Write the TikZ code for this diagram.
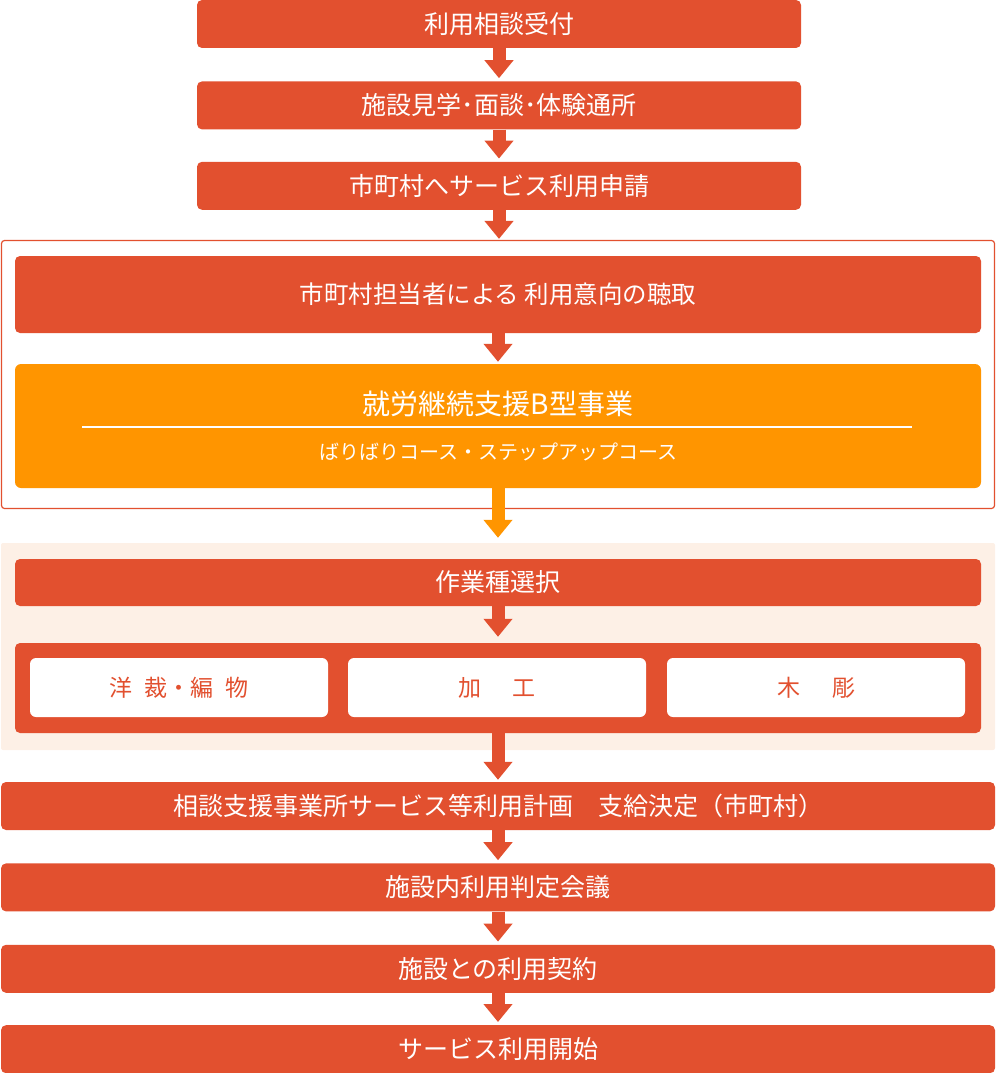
\documentclass[tikz,border=0pt]{standalone}
\usepackage{fontspec}
\newfontfamily\jp{Noto Sans CJK JP}
\usetikzlibrary{positioning,arrows.meta}
\definecolor{boxred}{HTML}{E2502F}
\definecolor{boxorange}{HTML}{FF9500}
\definecolor{peach}{HTML}{FDF0E6}
\tikzset{stepbox/.style={fill=boxred, rounded corners=5pt, text=white, inner sep=0pt,
    minimum height=48pt, font=\jp\fontsize{25}{30}\selectfont}}
\tikzset{kindbox/.style={fill=white, rounded corners=6pt, text=boxred, inner sep=0pt,
    minimum width=298pt, minimum height=59pt, font=\jp\fontsize{23}{27}\selectfont}}
\tikzset{arr/.style={draw=boxred, line width=13pt, -{Triangle[width=28pt,length=18pt]}}}
\tikzset{arrO/.style={arr, draw=boxorange}}
\begin{document}
\begin{tikzpicture}[x=1pt, y=1pt]
	\useasboundingbox (0,0) rectangle (996,-1073);
	\node[stepbox, minimum width=604pt] (uke) at (499,-24) {利用相談受付};
	\node[stepbox, minimum width=604pt, below=33pt of uke] (kengaku) {施設見学･面談･体験通所};
	\node[stepbox, minimum width=604pt, below=32pt of kengaku] (shinsei) {市町村へサービス利用申請};
	\node[draw=boxred, line width=1.2pt, fill=white, rounded corners=3pt,
	   minimum width=993pt, minimum height=268pt] (frm) at (498,-374.5) {};
	\node[stepbox, minimum width=966pt, minimum height=77pt,
	   font=\jp\fontsize{24.5}{28}\selectfont] (chosyu) at (498,-294.5) {市町村担当者による 利用意向の聴取};
	\node[fill=boxorange, rounded corners=6pt, minimum width=966pt, minimum height=124pt] (kata) at (498,-426) {};
	\node[text=white, font=\jp\fontsize{28}{32}\selectfont] (kataname) at (498,-404) {就労継続支援B型事業};
	\node[text=white, font=\jp\fontsize{20}{24}\selectfont] (course) at (498,-452) {ばりばりコース・ステップアップコース};
	\draw[white, line width=1.2pt] (82,-427) -- (912,-427);
	\node[fill=peach, rounded corners=2pt, minimum width=994pt, minimum height=207pt] (sagyobg) at (498,-646.5) {};
	\node[stepbox, minimum width=966pt, minimum height=47pt] (sentaku) at (498,-582.5) {作業種選択};
	\node[fill=boxred, rounded corners=5pt, minimum width=966pt, minimum height=90pt] (shubetsu) at (498,-688) {};
	\node[kindbox] (yousai) at (179,-687.5) {洋\hspace{12pt}裁・編\hspace{12pt}物};
	\node[kindbox] (kakou) at (497,-687.5) {加\hspace{32pt}工};
	\node[kindbox] (mokucho) at (816,-687.5) {木\hspace{32pt}彫};
	\node[stepbox, minimum width=994pt] (keikaku) at (498,-806) {相談支援事業所サービス等利用計画　支給決定（市町村）};
	\node[stepbox, minimum width=994pt, below=33pt of keikaku] (hantei) {施設内利用判定会議};
	\node[stepbox, minimum width=994pt, below=33pt of hantei] (keiyaku) {施設との利用契約};
	\node[stepbox, minimum width=994pt, below=32pt of keiyaku] (kaishi) {サービス利用開始};
	\draw[arr, shorten >=3pt] (uke) -- (kengaku);
	\draw[arr, shorten >=3pt] (kengaku) -- (shinsei);
	\draw[arr, shorten >=1pt] (shinsei) -- (frm.north -| shinsei);
	\draw[arr, shorten >=2pt] (chosyu) -- (kata);
	\draw[arrO, shorten >=5pt] (kata) -- (sagyobg.north);
	\draw[arr, shorten >=6pt] (sentaku) -- (shubetsu);
	\draw[arr, shorten >=2pt] (shubetsu) -- (keikaku);
	\draw[arr, shorten >=3pt] (keikaku) -- (hantei);
	\draw[arr, shorten >=3pt] (hantei) -- (keiyaku);
	\draw[arr, shorten >=3pt] (keiyaku) -- (kaishi);
\end{tikzpicture}
\end{document}
